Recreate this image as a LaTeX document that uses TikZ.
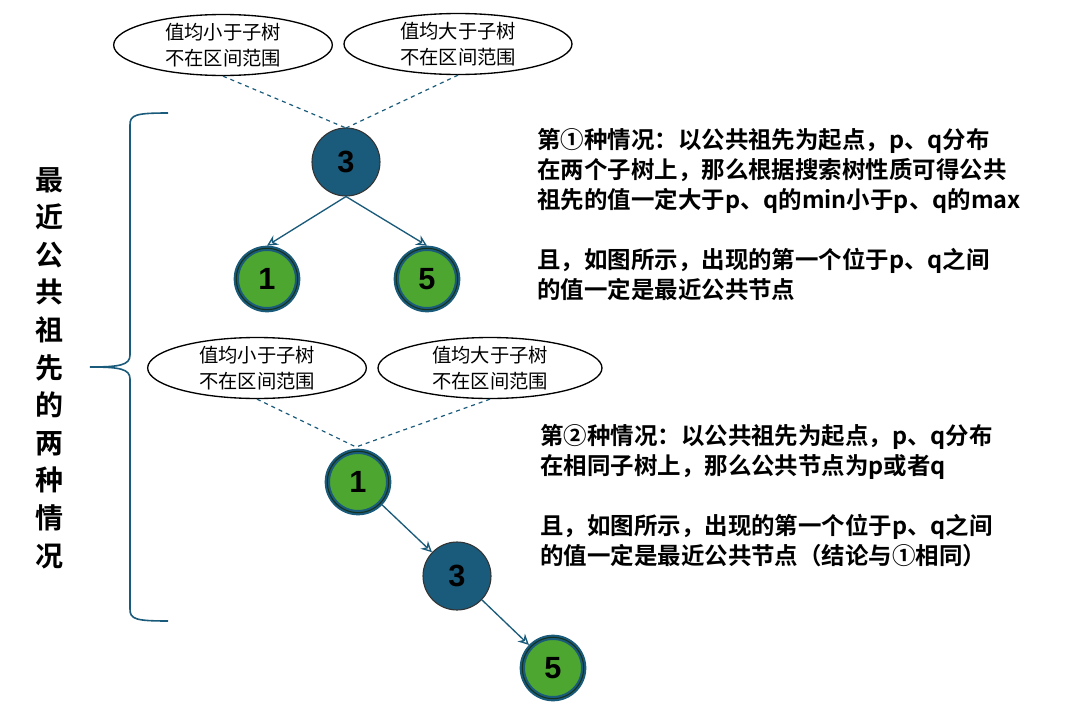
\documentclass[tikz,border=0pt]{standalone}
\usepackage{fontspec}
\newfontfamily\cjk{Noto Sans CJK SC}
\newfontfamily\cjkb{Noto Sans CJK SC Bold}
\setmainfont{Liberation Sans}
\definecolor{treeblue}{RGB}{26,90,122}
\definecolor{treegreen}{RGB}{76,166,48}
\definecolor{rimdark}{RGB}{20,50,30}
\usetikzlibrary{arrows.meta,shapes.geometric}
\begin{document}
\begin{tikzpicture}[x=0.75pt,y=0.75pt,yscale=-1,xscale=1,
  bound/.style={draw,ellipse,line width=1pt,inner sep=0pt,font=\cjk\fontsize{14.5pt}{19pt}\selectfont,align=center},
  bluenode/.style={circle,draw=black!80,line width=0.8pt,fill=treeblue,minimum size=51pt,inner sep=0pt,font=\bfseries\fontsize{23pt}{23pt}\selectfont},
  greennode/.style={circle,draw=treeblue,line width=4pt,fill=treegreen,minimum size=46pt,inner sep=0pt,font=\bfseries\fontsize{23pt}{23pt}\selectfont,
    postaction={draw=rimdark,line width=0.8pt}},
  edge/.style={draw=treeblue,line width=1pt,-{Stealth[open,length=8pt,width=8pt]}},
  link/.style={draw=treeblue,dashed,line width=0.9pt},
  note/.style={anchor=north west,inner sep=0pt,font=\cjkb\fontsize{17.6pt}{22.5pt}\selectfont,align=left}]
\useasboundingbox (0,0) rectangle (1072,707);

% first case
\node[bound,minimum width=164pt,minimum height=44pt] (lo1) at (223,45) {值均小于子树\\不在区间范围};
\node[bound,minimum width=171pt,minimum height=44pt] (hi1) at (458,44) {值均大于子树\\不在区间范围};
\node[bluenode] (r3) at (346,162) {3};
\node[greennode] (a1) at (267,279) {1};
\node[greennode] (a5) at (427,279) {5};
\coordinate (top1) at (346,128);
\draw[link] (lo1.south) -- (top1);
\draw[link] (hi1.south) -- (top1);
\draw[edge] (r3.south) -- (a1.north);
\draw[edge] (r3.south) -- (a5.north);

% second case
\node[bound,minimum width=164pt,minimum height=42pt] (lo2) at (257,368) {值均小于子树\\不在区间范围};
\node[bound,minimum width=168pt,minimum height=42pt] (hi2) at (490,368) {值均大于子树\\不在区间范围};
\node[greennode] (b1) at (358,482) {1};
\node[bluenode] (b3) at (457,576) {3};
\node[greennode] (b5) at (553,668) {5};
\coordinate (top2) at (356,447);
\draw[link] (lo2.south) -- (top2);
\draw[link] (hi2.south) -- (top2);
\draw[edge] (b1) -- (b3);
\draw[edge] (b3) -- (b5);

% brace and title
\draw[treeblue,line width=1.2pt] (168,113) .. controls (135,113) and (130,115) .. (130,125) -- (130,355) .. controls (130,365) and (120,367) .. (90,367)
  (168,621) .. controls (135,621) and (130,619) .. (130,609) -- (130,379) .. controls (130,369) and (120,367) .. (90,367);
\node[font=\cjkb\fontsize{21pt}{28.2pt}\selectfont,align=center] (title) at (50,368) {最\\近\\公\\共\\祖\\先\\的\\两\\种\\情\\况};

% notes
\node[note] (n1) at (537,128) {第①种情况：以公共祖先为起点，p、q分布\\在两个子树上，那么根据搜索树性质可得公共\\祖先的值一定大于p、q的min小于p、q的max\\[22.5pt]且，如图所示，出现的第一个位于p、q之间\\的值一定是最近公共节点};
\node[note] (n2) at (540,424) {第②种情况：以公共祖先为起点，p、q分布\\在相同子树上，那么公共节点为p或者q\\[22.5pt]且，如图所示，出现的第一个位于p、q之间\\的值一定是最近公共节点（结论与①相同）};
\end{tikzpicture}
\end{document}
